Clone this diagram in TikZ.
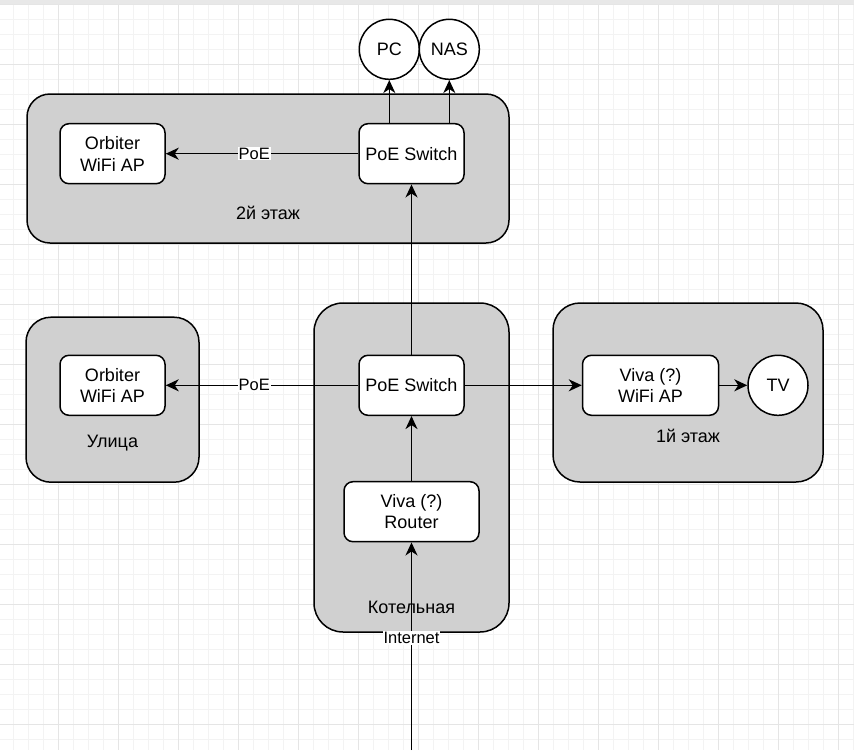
\documentclass[tikz,border=0pt]{standalone}
\usepackage{fontspec}
\setmainfont{Liberation Sans}
\usetikzlibrary{arrows.meta}
\definecolor{zonegray}{RGB}{208,208,208}
\definecolor{gridminor}{RGB}{243,243,243}
\definecolor{gridmajor}{RGB}{229,229,229}

\begin{document}
\begin{tikzpicture}[x=1pt,y=-1pt,
  zone/.style={draw=black, fill=zonegray, line width=1.5pt, inner sep=0pt},
  box/.style={draw=black, fill=white, line width=1.5pt, rounded corners=9pt,
    minimum width=105pt, minimum height=60pt, inner sep=0pt, align=center,
    font=\fontsize{18}{21.6}\selectfont},
  dev/.style={circle, draw=black, fill=white, line width=1.5pt,
    minimum size=60pt, inner sep=0pt, font=\fontsize{18}{21.6}\selectfont},
  zonelbl/.style={font=\fontsize{18}{21.6}\selectfont},
  link/.style={line width=1.5pt, -{Stealth[length=13pt,width=12pt,inset=4pt]}},
  tag/.style={fill=white, inner sep=1pt, font=\fontsize{16.5}{18}\selectfont}]
\useasboundingbox (0,0) rectangle (854,750);
\fill[white] (0,0) rectangle (854,750);

% grid
\foreach \i in {0,...,56} {\draw[gridminor, line width=1pt] ({13.3+15*\i},0) -- ++(0,750);}
\foreach \j in {0,...,50} {\draw[gridminor, line width=1pt] (0,{4+15*\j}) -- ++(854,0);}
\foreach \i in {0,...,13} {\draw[gridmajor, line width=1pt] ({58.3+60*\i},0) -- ++(0,750);}
\foreach \j in {0,...,12} {\draw[gridmajor, line width=1pt] (0,{4+60*\j}) -- ++(854,0);}
\fill[black!9] (0,0) rectangle (854,3.5);

% rooms
\node[zone, rounded corners=23pt, minimum width=482pt, minimum height=149pt] (floor2) at (268,168.5) {};
\node[zone, rounded corners=25pt, minimum width=173pt, minimum height=165pt] (street) at (112.5,399.7) {};
\node[zone, rounded corners=29pt, minimum width=195pt, minimum height=329pt] (boiler) at (411.5,467.5) {};
\node[zone, rounded corners=27pt, minimum width=270pt, minimum height=179pt] (floor1) at (688,392.5) {};
\node[zonelbl] (floor2lbl) at (268,213) {2й этаж};
\node[zonelbl] (streetlbl) at (112.5,443) {Улица};
\node[zonelbl] (boilerlbl) at (411.5,607) {Котельная};
\node[zonelbl] (floor1lbl) at (688,436) {1й этаж};

% devices
\node[box] (orb2) at (112.5,153.7) {Orbiter\\WiFi AP};
\node[box] (sw2) at (411.5,153.7) {PoE Switch};
\node[dev] (pc) at (389.3,49.3) {PC};
\node[dev] (nas) at (449.3,49.3) {NAS};
\node[box] (orb1) at (112.5,385.3) {Orbiter\\WiFi AP};
\node[box] (sw1) at (411.5,385.3) {PoE Switch};
\node[box, minimum width=135pt] (router) at (411.5,511.7) {Viva (?)\\Router};
\node[box, minimum width=136pt] (viva) at (650.5,385.3) {Viva (?)\\WiFi AP};
\node[dev] (tv) at (778,385.3) {TV};
\coordinate (net) at (411.5,750);

% links
\draw[link] (sw2.north -| pc) -- (pc);
\draw[link] (sw2.north -| nas) -- (nas);
\draw[link] (sw2) -- node[tag, pos=0.54] (poe2) {PoE} (orb2);
\draw[link] (sw1) -- (sw2);
\draw[link] (sw1) -- node[tag, pos=0.54] (poe1) {PoE} (orb1);
\draw[link] (sw1) -- (viva);
\draw[link] (viva) -- (tv);
\draw[link] (router) -- (sw1);
\draw[link] (net) -- node[tag, pos=0.54] (netlbl) {Internet} (router);
\end{tikzpicture}
\end{document}
